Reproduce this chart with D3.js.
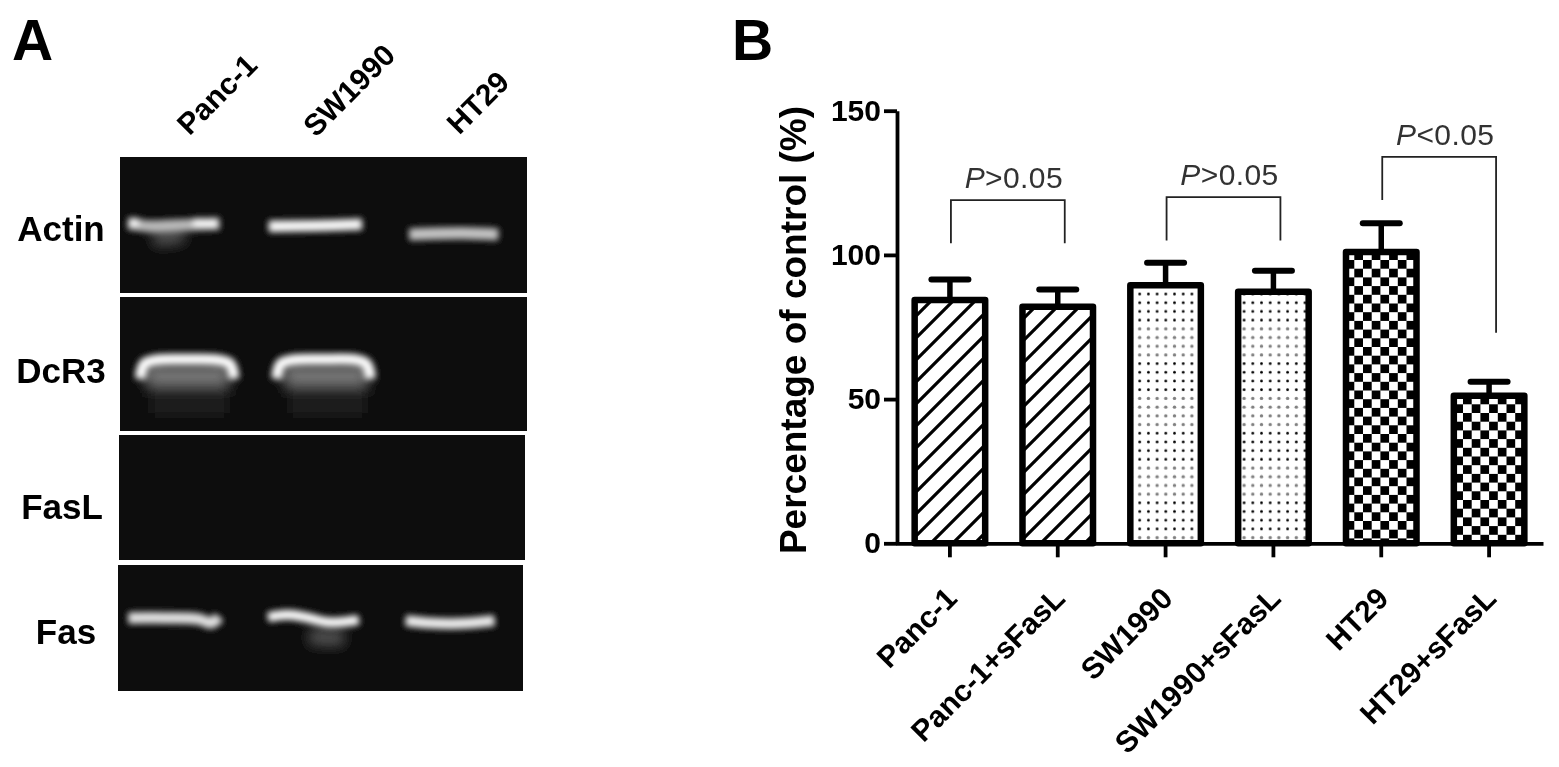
<!DOCTYPE html>
<html>
<head>
<meta charset="utf-8">
<script src="https://cdn.jsdelivr.net/npm/d3@7"></script>
<style>
  body { margin: 0; background: #fff; }
  text { font-family: "Liberation Sans", Arial, sans-serif; }
</style>
</head>
<body>
<svg id="figure" width="1559" height="767"></svg>
<script>
// panel B values
const categories = ['Panc-1', 'Panc-1+sFasL', 'SW1990', 'SW1990+sFasL', 'HT29', 'HT29+sFasL'];
const means = [84.4, 82, 89.5, 87.2, 101, 51.2];
const errorTops = [91.5, 88, 97.3, 94.5, 111, 56];
const patterns = ['hatch', 'hatch', 'dots', 'dots', 'check-a', 'check-b'];
const yTicks = [0, 50, 100, 150];

// from category, to category, bracket top, left foot, right foot (in % of control), text
const brackets = [
  [0, 1, 119, 104, 104, '>0.05'],
  [2, 3, 120, 105, 105, '>0.05'],
  [4, 5, 134, 119, 73, '<0.05']
];

// panel A gel
const gelRows = ['Actin', 'DcR3', 'FasL', 'Fas'];
const gelLanes = ['Panc-1', 'SW1990', 'HT29'];

// row index, brightness, spread, trace as [% across gel, % down row]
const gelTraces = [
  [0, 0.26, 1.6, [[8, 60], [16, 57]]],
  [0, 0.62, 1.1, [[2, 49], [8, 51], [16, 50], [24.5, 49]]],
  [0, 0.95, 0.8, [[2, 48], [4.5, 48]]],
  [0, 0.95, 0.8, [[18, 48], [24, 49]]],
  [0, 0.95, 1.05, [[36.5, 51], [48, 50.5], [59.5, 49.5]]],
  [0, 0.66, 1.1, [[71, 57], [84, 56], [93, 57]]],
  [1, 0.1, 3, [[7, 78], [27, 78]]],
  [1, 0.4, 1.8, [[6, 58], [27, 58]]],
  [1, 1, 1, [[5, 61], [6, 50], [9, 47], [16, 46.5], [24, 47], [27, 50], [28, 61]]],
  [1, 0.1, 3, [[41, 78], [61, 78]]],
  [1, 0.4, 1.8, [[40, 58], [61, 58]]],
  [1, 1, 1, [[38.5, 61], [39.5, 50], [42.5, 47], [50, 46.5], [58, 47], [60.5, 50], [61.5, 61]]],
  [3, 0.8, 1.05, [[2.5, 42], [12, 42], [20, 43], [23, 46], [25, 41]]],
  [3, 0.26, 1.6, [[47, 57], [56, 58]]],
  [3, 1, 0.9, [[37, 41.5], [42, 39.5], [47, 42], [52, 45.5], [59.5, 43.5]]],
  [3, 0.88, 1, [[71, 44], [77, 46], [84, 46.5], [93, 44]]]
];

// set up layout
const plot = { left: 896, right: 1543, top: 110.7, bottom: 543.3 };
const gelBoxes = [
  { left: 120, right: 527, top: 157, bottom: 293, labelX: 61, labelY: 241 },
  { left: 120, right: 527, top: 297, bottom: 431, labelX: 61, labelY: 383 },
  { left: 119, right: 525, top: 435, bottom: 560, labelX: 62, labelY: 519 },
  { left: 118, right: 523, top: 565, bottom: 691, labelX: 66, labelY: 644 }
];
const laneEnds = [[259, 67], [397, 57], [511, 84]];

const svg = d3.select('#figure');
const defs = svg.append('defs');

// blur filters
const blur = (id, amount) => defs.append('filter').attr('id', id)
  .attr('filterUnits', 'userSpaceOnUse')
  .attr('x', 0).attr('y', 0).attr('width', 1559).attr('height', 767)
  .append('feGaussianBlur').attr('stdDeviation', amount);

blur('soft', 0.55);
blur('glow', 3.4);
blur('haze', 7);

// bar fills
const hatch = defs.append('pattern').attr('id', 'hatch')
  .attr('patternUnits', 'userSpaceOnUse')
  .attr('width', 22).attr('height', 22);
hatch.append('rect').attr('width', 22).attr('height', 22).attr('fill', '#fff');
hatch.append('path')
  .attr('d', 'M-5.5,5.5L5.5,-5.5M0,22L22,0M16.5,27.5L27.5,16.5')
  .attr('stroke', '#000').attr('stroke-width', 3.2);

const dotStep = 8.7;
const dots = defs.append('pattern').attr('id', 'dots')
  .attr('patternUnits', 'userSpaceOnUse')
  .attr('x', 4.35).attr('y', 289.65)
  .attr('width', dotStep).attr('height', dotStep * 8);
dots.append('rect').attr('width', dotStep).attr('height', dotStep * 8).attr('fill', '#fff');
d3.range(8).forEach(i => {
  dots.append('circle')
    .attr('cx', dotStep / 2)
    .attr('cy', dotStep * (i + 0.5))
    .attr('r', i < 4 ? 1.35 : 1.7)
    .attr('fill', i < 4 ? '#000' : '#808080');
});

// each checker bar has its own phase in the original
const cell = 8.7;
const addCheck = (id, x, y) => {
  const check = defs.append('pattern').attr('id', id)
    .attr('patternUnits', 'userSpaceOnUse')
    .attr('x', x).attr('y', y)
    .attr('width', cell * 2).attr('height', cell * 2);
  check.append('rect').attr('width', cell * 2).attr('height', cell * 2).attr('fill', '#fff');
  check.append('rect').attr('width', cell).attr('height', cell).attr('fill', '#000');
  check.append('rect').attr('x', cell).attr('y', cell).attr('width', cell).attr('height', cell).attr('fill', '#000');
};
addCheck('check-a', 5.8, 16.4);
addCheck('check-b', 1.4, 12.8);

const root = svg.append('g').attr('filter', 'url(#soft)');

// panel letters
root.append('text').attr('x', 12).attr('y', 60)
  .attr('font-size', 57).attr('font-weight', 'bold').text('A');
root.append('text').attr('x', 732).attr('y', 60)
  .attr('font-size', 57).attr('font-weight', 'bold').text('B');

// panel A: gel rows
const gel = root.append('g');

gelBoxes.forEach((box, row) => {
  const gx = d3.scaleLinear().domain([0, 100]).range([box.left, box.right]);
  const gy = d3.scaleLinear().domain([0, 100]).range([box.top, box.bottom]);
  const line = d3.line().x(d => gx(d[0])).y(d => gy(d[1])).curve(d3.curveCatmullRom);

  defs.append('clipPath').attr('id', 'gel-clip-' + row)
    .append('rect')
    .attr('x', box.left).attr('y', box.top)
    .attr('width', box.right - box.left).attr('height', box.bottom - box.top);

  gel.append('rect')
    .attr('x', box.left).attr('y', box.top)
    .attr('width', box.right - box.left).attr('height', box.bottom - box.top)
    .attr('fill', '#0a0a0a');

  const traces = gelTraces.filter(d => d[0] === row);
  const bandLayer = gel.append('g').attr('clip-path', `url(#gel-clip-${row})`);

  // wide traces get the heavier blur
  [['haze', traces.filter(d => d[2] >= 1.5)], ['glow', traces.filter(d => d[2] < 1.5)]]
    .forEach(([filterId, list]) => {
      bandLayer.append('g')
        .attr('filter', `url(#${filterId})`)
        .selectAll('path')
        .data(list)
        .enter()
        .append('path')
        .attr('d', d => line(d[3]))
        .attr('fill', 'none')
        .attr('stroke', d => d3.interpolateGreys(1 - d[1]))
        .attr('stroke-width', d => 11 * d[2]);
    });

  gel.append('text')
    .attr('x', box.labelX)
    .attr('y', box.labelY)
    .attr('text-anchor', 'middle')
    .attr('font-size', 35)
    .attr('font-weight', 'bold')
    .text(gelRows[row]);
});

// lane labels
gel.selectAll('.lane')
  .data(gelLanes)
  .enter()
  .append('text')
  .attr('class', 'lane')
  .attr('transform', (d, i) => `translate(${laneEnds[i][0]},${laneEnds[i][1]}) rotate(-45)`)
  .attr('text-anchor', 'end')
  .attr('font-size', 30)
  .attr('font-weight', 'bold')
  .text(d => d);

// panel B: scales
const xScale = d3.scaleBand()
  .domain(categories)
  .range([plot.left, plot.right])
  .paddingInner(0.346)
  .paddingOuter(0.173);

const yScale = d3.scaleLinear()
  .domain([0, 150])
  .range([plot.bottom, plot.top]);

const chart = root.append('g');

// bars
chart.selectAll('.bar')
  .data(categories)
  .enter()
  .append('rect')
  .attr('class', 'bar')
  .attr('x', d => xScale(d))
  .attr('y', (d, i) => yScale(means[i]))
  .attr('width', xScale.bandwidth())
  .attr('height', (d, i) => yScale(0) - yScale(means[i]))
  .attr('fill', (d, i) => `url(#${patterns[i]})`)
  .attr('stroke', '#000')
  .attr('stroke-width', 6.5)
  .attr('stroke-linejoin', 'round');

// error bars
const center = d => xScale(d) + xScale.bandwidth() / 2;

chart.selectAll('.stem')
  .data(categories)
  .enter()
  .append('line')
  .attr('class', 'stem')
  .attr('x1', center).attr('x2', center)
  .attr('y1', (d, i) => yScale(means[i]))
  .attr('y2', (d, i) => yScale(errorTops[i]))
  .attr('stroke', '#000').attr('stroke-width', 5.5);

chart.selectAll('.cap')
  .data(categories)
  .enter()
  .append('line')
  .attr('class', 'cap')
  .attr('x1', d => center(d) - 18.5).attr('x2', d => center(d) + 18.5)
  .attr('y1', (d, i) => yScale(errorTops[i]))
  .attr('y2', (d, i) => yScale(errorTops[i]))
  .attr('stroke', '#000').attr('stroke-width', 6)
  .attr('stroke-linecap', 'round');

// axes
const yAxis = d3.axisLeft(yScale)
  .tickValues(yTicks)
  .tickSize(13)
  .tickSizeOuter(0)
  .tickPadding(3);

const xAxis = d3.axisBottom(xScale)
  .tickSize(14)
  .tickSizeOuter(0)
  .tickPadding(4);

const yG = chart.append('g')
  .attr('transform', `translate(${plot.left + 1},0)`)
  .call(yAxis);

yG.selectAll('text')
  .attr('font-size', 30)
  .attr('font-weight', 'bold')
  .attr('font-family', '"Liberation Sans", Arial, sans-serif');

const xG = chart.append('g')
  .attr('transform', `translate(0,${plot.bottom})`)
  .call(xAxis);

xG.selectAll('text')
  .attr('font-size', 30)
  .attr('font-weight', 'bold')
  .attr('font-family', '"Liberation Sans", Arial, sans-serif')
  .attr('text-anchor', 'end')
  .attr('dy', 0)
  .attr('y', 0)
  .attr('transform', 'translate(9,57) rotate(-45)');

chart.selectAll('.domain, .tick line')
  .attr('stroke', '#000')
  .attr('stroke-width', 3.8);

// y axis title
chart.append('text')
  .attr('transform', `translate(806,${(plot.top + plot.bottom) / 2 + 3}) rotate(-90)`)
  .attr('text-anchor', 'middle')
  .attr('font-size', 37)
  .attr('font-weight', 'bold')
  .text('Percentage of control (%)');

// significance brackets, right foot sits a little past the bar centre
const bracket = chart.selectAll('.bracket')
  .data(brackets)
  .enter()
  .append('g')
  .attr('class', 'bracket');

bracket.append('path')
  .attr('d', d => {
    const p = d3.path();
    const x0 = center(categories[d[0]]) + 1;
    const x1 = center(categories[d[1]]) + 7;
    p.moveTo(x0, yScale(d[3]));
    p.lineTo(x0, yScale(d[2]));
    p.lineTo(x1, yScale(d[2]));
    p.lineTo(x1, yScale(d[4]));
    return p.toString();
  })
  .attr('fill', 'none')
  .attr('stroke', '#222')
  .attr('stroke-width', 1.8);

const pLabel = bracket.append('text')
  .attr('x', d => (center(categories[d[0]]) + center(categories[d[1]])) / 2 + 10)
  .attr('y', d => yScale(d[2]) - 12)
  .attr('text-anchor', 'middle')
  .attr('font-size', 30)
  .attr('letter-spacing', 0.4)
  .attr('fill', '#333');

pLabel.append('tspan').attr('font-style', 'italic').text('P');
pLabel.append('tspan').text(d => d[5]);
</script>
</body>
</html>
